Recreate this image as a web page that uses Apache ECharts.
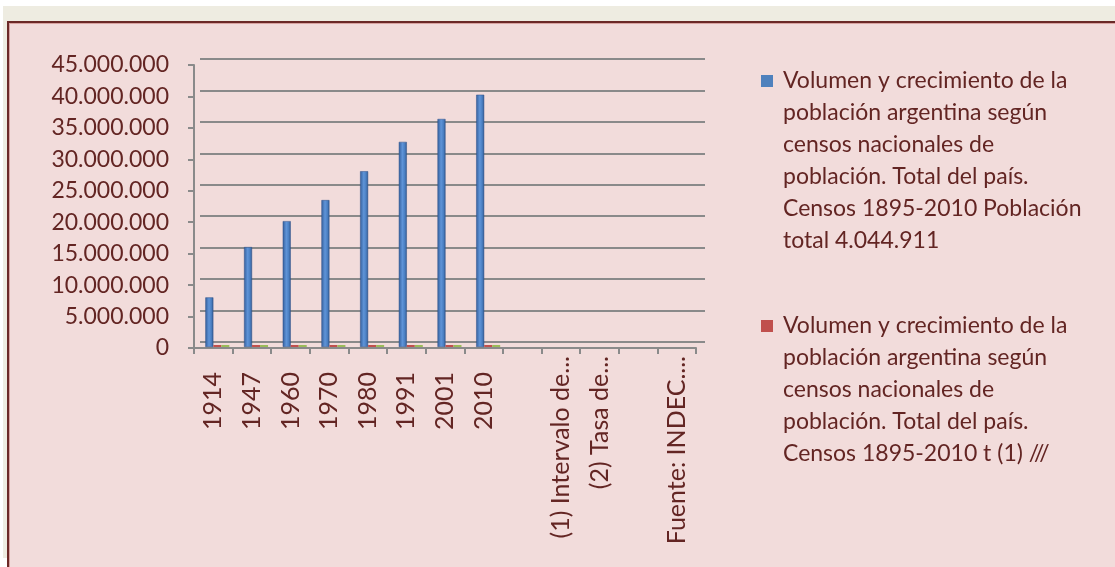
<!DOCTYPE html>
<html>
<head>
<meta charset="utf-8">
<title>Población argentina</title>
<script src="https://cdn.jsdelivr.net/npm/echarts@6/dist/echarts.min.js"></script>
<style>
html, body { margin:0; padding:0; background:#fff; }
#page { position:relative; width:1115px; height:567px; overflow:hidden; }
#tan { position:absolute; left:3px; top:6px; right:0; height:552px; background:#eeece1; }
#panel { position:absolute; left:7px; top:21px; width:1120px; height:560px; background:#f2dcdb; border:2px solid #6b2927; box-shadow:inset 1px 1px 0 #d9a3a1; }
#chart { position:absolute; left:0; top:0; width:1115px; height:567px; }
</style>
</head>
<body>
<div id="page">
  <div id="tan"></div>
  <div id="panel"></div>
  <div id="chart"></div>
</div>
<script type="text/javascript">
// categorias del eje x
var categorias = ['1914', '1947', '1960', '1970', '1980', '1991', '2001', '2010', '',
                  '(1) Intervalo de...', '(2) Tasa de...', '', 'Fuente: INDEC....'];
// poblacion total por censo
var poblacion = [7885237, 15893827, 20013793, 23364431, 27949480, 32615528, 36260130, 40117096];
// tasa (por mil) - casi invisible en la escala
var tasa = [36.7, 20.6, 17.9, 15.6, 18.1, 14.7, 10.1, 11.4];
// intervalo en años - casi invisible tambien
var intervalo = [19, 33, 13, 10, 10, 11, 10, 9];
// eje y
var yMin = 0, yMax = 45000000, yPaso = 5000000;

var leyenda1 = ['Volumen y crecimiento de la', 'población argentina según', 'censos nacionales de',
                'población. Total del país.', 'Censos 1895-2010 Población', 'total 4.044.911'];
var leyenda2 = ['Volumen y crecimiento de la', 'población argentina según', 'censos nacionales de',
                'población. Total del país.', 'Censos 1895-2010 t (1) ///'];
var nombre1 = leyenda1.join(' ');
var nombre2 = leyenda2.join(' ');

var texto = '#632523';
var gris = '#8a8a8a';
var fuente = 'Lato';

function miles(v) {
  return String(v).replace(/\B(?=(\d{3})+(?!\d))/g, '.');
}

function lineasLeyenda(lineas, cuadro) {
  return lineas.map(function (l, i) {
    return (i === 0 ? '{' + cuadro + '| }' : '{esp| }') + '{gap| }{t|' + l + '}';
  }).join('\n');
}

// las etiquetas largas (recortadas) quedan mas cerca del eje
var catEje = categorias.map(function (c) {
  return c.length > 4 ? { value: c, textStyle: { padding: [0, -16, 0, 0] } } : c;
});

var chart = echarts.init(document.getElementById('chart'));

chart.setOption({
  animation: false,
  textStyle: { fontFamily: fuente },
  legend: {
    data: [nombre1, nombre2],
    orient: 'vertical',
    left: 755,
    top: 65,
    padding: 0,
    itemGap: 53,
    itemWidth: 0,
    itemHeight: 0,
    formatter: function (name) {
      return name === nombre1 ? lineasLeyenda(leyenda1, 'az') : lineasLeyenda(leyenda2, 'ro');
    },
    textStyle: {
      color: texto,
      fontFamily: fuente,
      fontSize: 23,
      lineHeight: 32,
      rich: {
        az: { width: 12, height: 12, backgroundColor: '#4f81bd' },
        ro: { width: 12, height: 12, backgroundColor: '#c0504d' },
        esp: { width: 12, height: 12 },
        gap: { width: 10 },
        t: { color: texto, fontFamily: fuente, fontSize: 23, lineHeight: 32 }
      }
    }
  },
  grid: [
    // pared del fondo (lineas de division)
    { left: 200, top: 59, width: 505, height: 283 },
    // ejes del frente
    { left: 194, top: 65, width: 502, height: 283 },
    // columnas
    { left: 198, top: 64, width: 503, height: 283 }
  ],
  xAxis: [
    { gridIndex: 0, type: 'category', data: categorias, show: false },
    {
      gridIndex: 1, type: 'category', data: catEje,
      axisLine: { lineStyle: { color: gris, width: 2 } },
      axisTick: { show: true, length: 6, lineStyle: { color: gris, width: 2 } },
      axisLabel: { rotate: 90, margin: 24, interval: 0, color: texto, fontFamily: fuente, fontSize: 25 }
    },
    { gridIndex: 2, type: 'category', data: categorias, show: false }
  ],
  yAxis: [
    {
      gridIndex: 0, type: 'value', min: yMin, max: yMax, interval: yPaso,
      axisLine: { show: false }, axisTick: { show: false }, axisLabel: { show: false },
      splitLine: { lineStyle: { color: gris, width: 2 } }
    },
    {
      gridIndex: 1, type: 'value', min: yMin, max: yMax, interval: yPaso,
      axisLine: { show: true, lineStyle: { color: gris, width: 2 } },
      axisTick: { show: true, length: 6, lineStyle: { color: gris, width: 2 } },
      splitLine: { show: false },
      axisLabel: { margin: 25, color: texto, fontFamily: fuente, fontSize: 23, formatter: miles }
    },
    { gridIndex: 2, type: 'value', min: yMin, max: yMax, interval: yPaso, show: false, splitLine: { show: false } }
  ],
  series: [
    {
      name: nombre1, type: 'bar', xAxisIndex: 2, yAxisIndex: 2,
      data: poblacion, barWidth: 8, barGap: '0%',
      itemStyle: {
        color: new echarts.graphic.LinearGradient(0, 0, 1, 0, [
          { offset: 0, color: '#345f9c' },
          { offset: 0.45, color: '#5f94d8' },
          { offset: 0.75, color: '#4a7fc2' },
          { offset: 1, color: '#31588f' }
        ]),
        borderColor: '#2f5188', borderWidth: 0.5
      }
    },
    {
      name: nombre2, type: 'bar', xAxisIndex: 2, yAxisIndex: 2,
      data: tasa, barWidth: 8, barGap: '0%', barMinHeight: 2,
      itemStyle: { color: '#c0504d' }
    },
    {
      name: 'Serie 3', type: 'bar', xAxisIndex: 2, yAxisIndex: 2,
      data: intervalo, barWidth: 8, barGap: '0%', barMinHeight: 2,
      itemStyle: { color: '#9bbb59' }
    }
  ]
});
</script>
</body>
</html>
